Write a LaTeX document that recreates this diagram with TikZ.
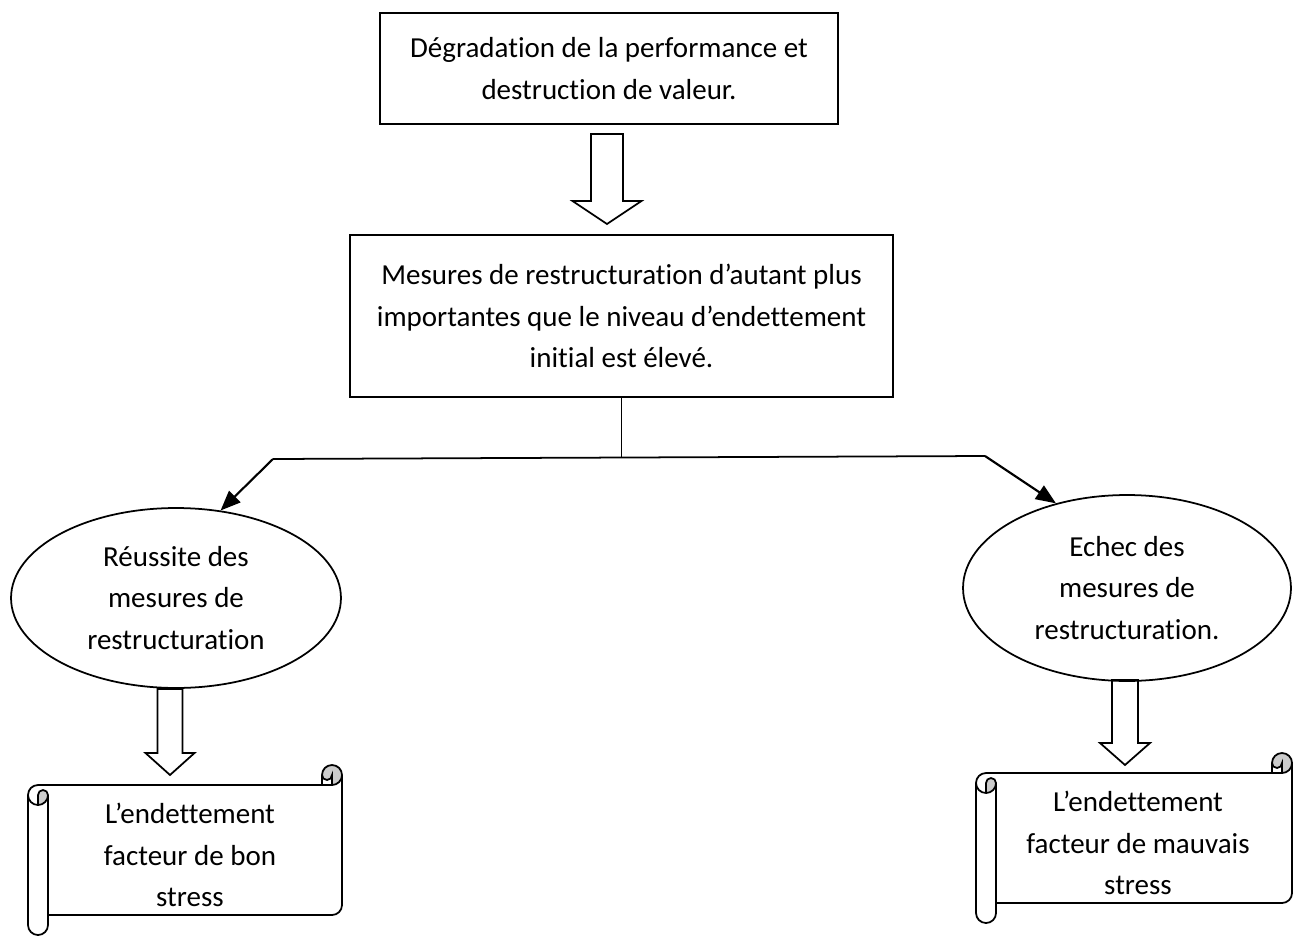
\documentclass[tikz,border=0pt]{standalone}
\usepackage{fontspec}
\setmainfont{Carlito}[Ligatures=NoCommon]
\usetikzlibrary{arrows.meta,shapes.geometric,calc}

% scroll shape: left, top, right, bottom (in px units)
\newcommand{\scrollshape}[4]{%
  \fill[white] (#1,{#2+30}) arc (180:270:10) -- ({#3-20},{#2+20}) -- ({#3-20},{#2+10})
    arc (180:360:10) -- (#3,{#4-30}) arc (0:90:10) -- ({#1+20},{#4-20})
    -- ({#1+20},{#4-10}) arc (0:180:10) -- cycle;
  \fill[black!20] ({#3-10},{#2+20}) arc (90:-180:10) arc (180:0:5) -- cycle;
  \fill[black!20] ({#1+10},{#2+40}) arc (90:0:10) arc (0:-180:5) -- cycle;
  \draw[line join=round] (#1,{#2+30}) arc (180:270:10) -- ({#3-20},{#2+20}) -- ({#3-20},{#2+10})
    arc (180:360:10) -- (#3,{#4-30}) arc (0:90:10) -- ({#1+20},{#4-20})
    -- ({#1+20},{#4-10}) arc (0:180:10) -- cycle;
  \draw ({#3-20},{#2+20}) -- ({#3-10},{#2+20}) arc (90:0:10);
  \draw ({#3-10},{#2+20}) -- ({#3-10},{#2+10}) arc (0:180:5);
  \draw ({#1+10},{#2+40}) -- ({#1+10},{#2+30}) arc (180:360:5) arc (0:180:10);
  \draw ({#1+20},{#2+30}) -- ({#1+20},{#4-20});
}

% hollow down arrow: start, shaft length, head length, shaft half, head half
\newcommand{\blockdown}[5]{%
  \draw[line join=miter] (#1) ++(-#4,0) -- ++(0,#2) -- ++({#4-#5},0) -- ++(#5,#3)
    -- ++(#5,-#3) -- ++({#4-#5},0) -- ++(0,-#2) -- cycle;
}

\tikzset{
  every node/.style={font=\fontsize{16.5pt}{23.5pt}\selectfont, align=center},
  txtbox/.style={draw, line width=1pt, inner sep=0pt},
  bubble/.style={draw, ellipse, line width=1pt, inner sep=0pt},
  link/.style={line width=1.2pt, -{Triangle[length=0.4cm,width=0.32cm]}}
}

\begin{document}
\begin{tikzpicture}[x=0.02cm, y=-0.02cm, line width=1pt]
  \useasboundingbox (0,0) rectangle (1295,936);

  % Boxes
  \node[txtbox, minimum width=9.16cm, minimum height=2.22cm] (degrad) at (609,68.5)
    {Dégradation de la performance et\\destruction de valeur.};
  \node[txtbox, minimum width=10.86cm, minimum height=3.24cm] (mesures) at (621.5,316)
    {Mesures de restructuration d’autant plus\\importantes que le niveau d’endettement\\initial est élevé.};

  % Ellipses
  \node[bubble, minimum width=6.6cm, minimum height=3.6cm] (reussite) at (176,598)
    {Réussite des\\mesures de\\restructuration};
  \node[bubble, minimum width=6.56cm, minimum height=3.72cm] (echec) at (1127,588)
    {Echec des\\mesures de\\restructuration.};

  % Block arrows
  \blockdown{607,134}{67}{23}{16}{34.5}
  \blockdown{170,689}{64}{22}{12.5}{24.5}
  \blockdown{1125,680}{63}{22}{13}{25}

  % Split
  \coordinate (bl) at (273,459);
  \coordinate (br) at (985,456);
  \draw (mesures.south) -- ++(0,60);
  \draw (bl) -- (br);
  \draw[link] (bl) -- (reussite.63);
  \draw[link] (br) -- (echec.130);

  % Scrolls
  \scrollshape{28}{765}{342}{935}
  \scrollshape{976}{753}{1292}{923}
  \node (bon) at (190,855) {L’endettement\\facteur de bon\\stress};
  \node (mauvais) at (1138,843) {L’endettement\\facteur de mauvais\\stress};
\end{tikzpicture}
\end{document}
